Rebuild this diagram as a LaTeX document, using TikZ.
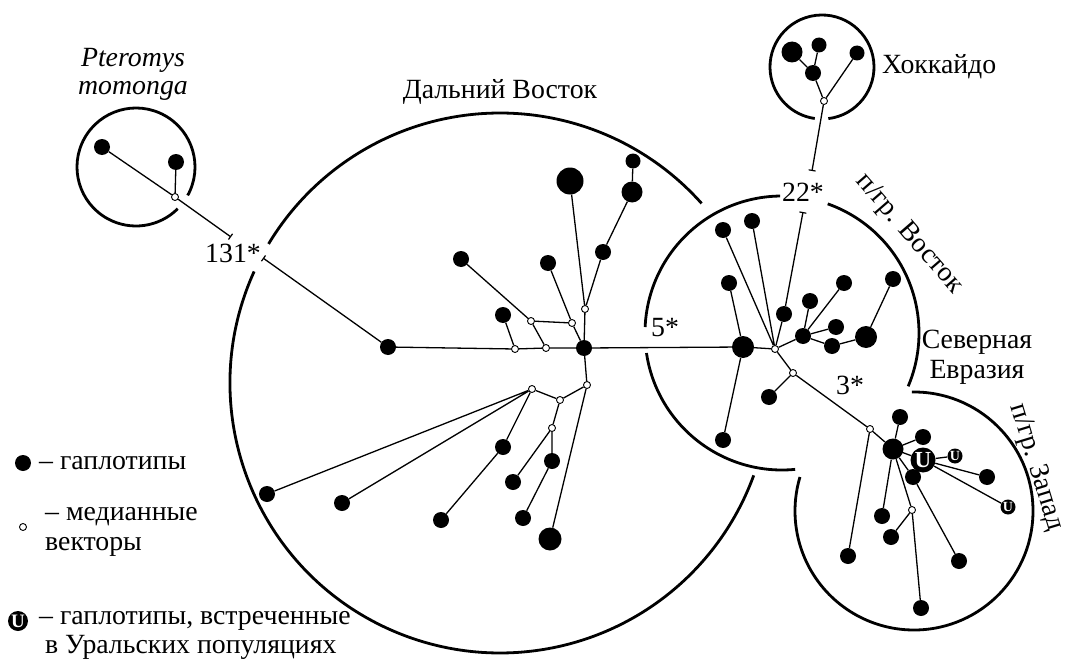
\documentclass[tikz,border=0pt]{standalone}
\usepackage{fontspec}
\setmainfont{Liberation Serif}
\usetikzlibrary{arrows.meta}

\tikzset{
  hap/.style={circle, fill=black, inner sep=0pt, minimum size=16pt},
  med/.style={circle, draw=black, fill=white, line width=0.9pt, inner sep=0pt, minimum size=7pt},
  ural/.style={circle, fill=black, inner sep=0pt, text=white, font=\bfseries\fontsize{#1}{#1}\selectfont},
  link/.style={line width=1.3pt},
  cut/.style={link, -{Bar[width=7pt, line width=1.2pt]}},
  rim/.style={line width=2.8pt},
  lbl/.style={inner sep=0pt, font=\fontsize{27.8}{30}\selectfont}
}

\begin{document}
\begin{tikzpicture}[x=1pt,y=-1pt]
\useasboundingbox (0,0) rectangle (1066,661);

% outlines of the groups
\coordinate (cpt) at (136,167);
\coordinate (cfe) at (500,383);
\coordinate (cho) at (822,67);
\coordinate (cea) at (782,333);
\coordinate (cwe) at (914,511);
\draw[rim] ([shift={(-28.8:59pt)}]cpt) arc[start angle=-28.8, end angle=315, radius=59pt];
\draw[rim] ([shift={(-83:52pt)}]cho) arc[start angle=-83, end angle=262, radius=52pt];
\draw[rim] ([shift={(41.7:270pt)}]cfe) arc[start angle=41.7, end angle=149, radius=270pt];
\draw[rim] ([shift={(155.6:270pt)}]cfe) arc[start angle=155.6, end angle=340, radius=270pt];
\draw[rim] ([shift={(70.5:137pt)}]cea) arc[start angle=70.5, end angle=-22.9, radius=137pt];
\draw[rim] ([shift={(90.8:137pt)}]cea) arc[start angle=90.8, end angle=177.5, radius=137pt];
\draw[rim] ([shift={(-171.6:137pt)}]cea) arc[start angle=-171.6, end angle=-84.5, radius=137pt];
\draw[rim] ([shift={(91:119pt)}]cwe) arc[start angle=91, end angle=-196.6, radius=119pt];

% Pteromys momonga
\node (pa) at (102,147) [hap] {};
\node (pb) at (176,162) [hap] {};
\node (pm) at (175,197) [med] {};
\coordinate (pt1) at (231,237);
\coordinate (pt2) at (263,258);

% Far East
\node (fa) at (388,347) [hap] {};
\node (fm1) at (515,349) [med] {};
\node (fm2) at (546,348) [med] {};
\node (fb) at (503,315) [hap] {};
\node (fm3) at (531,321) [med] {};
\node (fc) at (461,259) [hap] {};
\node (fm4) at (572,323) [med] {};
\node (fd) at (548,263) [hap] {};
\node (fh) at (584,348) [hap] {};
\node (fm5) at (585,309) [med] {};
\node (fe) at (570,181) [hap, minimum size=27pt] {};
\node (ff) at (603,252) [hap] {};
\node (fg) at (632,192) [hap, minimum size=21pt] {};
\node (fi) at (633,161) [hap, minimum size=15pt] {};
\node (fm6) at (587,385) [med] {};
\node (fm7) at (532,389) [med] {};
\node (fm8) at (560,400) [med] {};
\node (fm9) at (552,428) [med] {};
\node (fj) at (267,494) [hap] {};
\node (fk) at (342,503) [hap] {};
\node (fl) at (503,447) [hap] {};
\node (fn) at (441,520) [hap] {};
\node (fo) at (513,482) [hap] {};
\node (fp) at (552,461) [hap] {};
\node (fq) at (523,518) [hap] {};
\node (fr) at (550,539) [hap, minimum size=23pt] {};

% Hokkaido
\node (ha) at (792,52) [hap, minimum size=21pt] {};
\node (hb) at (819,45) [hap, minimum size=15pt] {};
\node (hc) at (813,73) [hap] {};
\node (hd) at (857,53) [hap, minimum size=15pt] {};
\node (hm) at (824,101) [med] {};
\coordinate (ht1) at (812,171);
\coordinate (ht2) at (803,212);

% Northern Eurasia, east
\node (ea) at (723,230) [hap] {};
\node (eb) at (752,221) [hap] {};
\node (ec) at (729,283) [hap] {};
\node (eh) at (743,347) [hap, minimum size=22pt] {};
\node (em1) at (775,349) [med] {};
\node (ed) at (784,314) [hap] {};
\node (ee) at (810,301) [hap] {};
\node (ef) at (844,283) [hap] {};
\node (eg) at (803,336) [hap] {};
\node (ei) at (836,327) [hap] {};
\node (ej) at (832,346) [hap] {};
\node (ek) at (866,337) [hap, minimum size=22pt] {};
\node (el) at (893,279) [hap] {};
\node (em2) at (793,373) [med] {};
\node (en) at (769,397) [hap] {};
\node (em3) at (870,429) [med] {};
\node (eo) at (723,440) [hap] {};

% Northern Eurasia, west
\node (wh) at (893,449) [hap, minimum size=21pt] {};
\node (wa) at (900,417) [hap] {};
\node (wb) at (923,437) [hap] {};
\node (wu) at (923,460) [ural=23, minimum size=25pt] {U};
\node (wu2) at (955,456) [ural=14, minimum size=15pt] {U};
\node (wc) at (913,477) [hap] {};
\node (wd) at (987,477) [hap] {};
\node (wu3) at (1008,507) [ural=14, minimum size=15pt] {U};
\node (we) at (882,516) [hap] {};
\node (wm) at (912,510) [med] {};
\node (wf) at (891,537) [hap] {};
\node (wg) at (848,556) [hap] {};
\node (wi) at (959,561) [hap] {};
\node (wj) at (921,608) [hap] {};

% connectors
\draw[link] (pa) -- (pm) (pb) -- (pm);
\draw[cut] (pm) -- (pt1);
\draw[cut] (fa) -- (pt2);
\draw[link] (fa) -- (fm1) -- (fm2) -- (fh) -- (eh);
\draw[link] (fb) -- (fm1) (fm2) -- (fm3) (fc) -- (fm3) -- (fm4) -- (fh);
\draw[link] (fd) -- (fm4) (fh) -- (fm5) -- (fe) (fm5) -- (ff) -- (fg) -- (fi);
\draw[link] (fh) -- (fm6) -- (fm8) -- (fm7) -- (fj) (fm7) -- (fk) (fm7) -- (fl) -- (fn);
\draw[link] (fm8) -- (fm9) -- (fo) (fm9) -- (fp) -- (fq) (fm6) -- (fr);
\draw[link] (ha) -- (hc) (hb) -- (hc) -- (hm) (hd) -- (hm);
\draw[cut] (hm) -- (ht1);
\draw[cut] (ed) -- (ht2);
\draw[link] (ed) -- (em1) (ea) -- (em1) (eb) -- (em1) (ec) -- (eh) -- (eo) (eh) -- (em1);
\draw[link] (em1) -- (eg) -- (ee) (eg) -- (ef) (eg) -- (ei) (eg) -- (ej) -- (ek) -- (el);
\draw[link] (em1) -- (em2) -- (en) (em2) -- (em3) -- (wh) (em3) -- (wg);
\draw[link] (wh) -- (wa) (wh) -- (wb) (wh) -- (wu) -- (wu2) (wu) -- (wd) (wu) -- (wu3);
\draw[link] (wh) -- (wc) -- (wi) (wh) -- (we) (wh) -- (wm) -- (wf) (wm) -- (wj);

% labels
\node (tpt) at (133,74) [lbl, align=center, font=\itshape\fontsize{27.8}{28}\selectfont] {Pteromys\\momonga};
\node (tfe) at (500,92) [lbl] {Дальний Восток};
\node (tho) at (882,67) [lbl, anchor=west] {Хоккайдо};
\node (t131) at (233,253) [lbl] {131*};
\node (t22) at (803,192) [lbl] {22*};
\node (t5) at (665,328) [lbl] {5*};
\node (t3) at (850,385) [lbl] {3*};
\node (tea) at (909,234) [lbl, rotate=-49] {п/гр. Восток};
\node (tne) at (977,357) [lbl, align=center] {Северная\\Евразия};
\node (twe) at (1036,467) [lbl, rotate=-73] {п/гр. Запад};

% legend
\node (lg1) at (23,463) [hap] {};
\node (lt1) at (39,463) [lbl, anchor=west] {– гаплотипы};
\node (lg2) at (23,527) [med] {};
\node (lt2) at (45,532) [lbl, anchor=west, align=left] {– медианные\\векторы};
\node (lg3) at (18,621) [ural=19, minimum size=20pt] {U};
\node (lt3) at (39,621) [lbl, anchor=west] {– гаплотипы, встреченные};
\node (lt4) at (45,647) [lbl, anchor=west] {в Уральских популяциях};
\end{tikzpicture}
\end{document}
